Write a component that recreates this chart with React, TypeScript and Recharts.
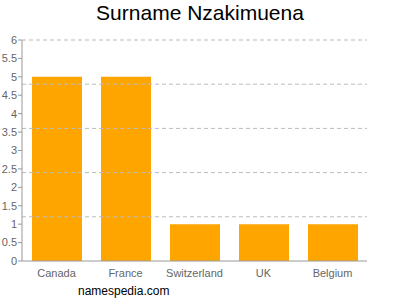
import { BarChart, Bar, XAxis, YAxis, ReferenceLine } from 'recharts';

const countries = ['Canada', 'France', 'Switzerland', 'UK', 'Belgium'];
const counts = [5, 5, 1, 1, 1];
const yTicks = [0, 0.5, 1, 1.5, 2, 2.5, 3, 3.5, 4, 4.5, 5, 5.5, 6];
const gridValues = [1.2, 2.4, 3.6, 4.8, 6];

const data = countries.map((name, i) => ({ name, value: counts[i] }));

export default function App() {
  return (
    <div style={{ position: 'absolute', left: 0, top: 0, width: 400, height: 300, background: '#fff', fontFamily: '"Liberation Sans", Arial, sans-serif' }}>
      <div style={{ position: 'absolute', left: 0, top: 1, width: 400, textAlign: 'center', fontSize: 21, color: '#000' }}>
        Surname Nzakimuena
      </div>
      <BarChart
        width={400}
        height={300}
        data={data}
        margin={{ top: 40, right: 33, left: 0, bottom: 0 }}
        barSize={50}
      >
        {gridValues.map((v) => (
          <ReferenceLine key={v} y={v} stroke="#bbb" strokeDasharray="4 3" />
        ))}
        <XAxis
          dataKey="name"
          axisLine={{ stroke: '#999' }}
          tickLine={false}
          tick={{ fill: '#666', fontSize: 11 }}
          height={39}
          interval={0}
        />
        <YAxis
          domain={[0, 6]}
          ticks={yTicks}
          width={22}
          axisLine={{ stroke: '#999' }}
          tickLine={{ stroke: '#999' }}
          tickSize={4}
          tickMargin={1}
          tick={{ fill: '#666', fontSize: 11 }}
          interval={0}
        />
        <Bar dataKey="value" fill="#ffa500" isAnimationActive={false} />
      </BarChart>
      <div style={{ position: 'absolute', left: 78, top: 284, fontSize: 12, color: '#000' }}>
        namespedia.com
      </div>
    </div>
  );
}
